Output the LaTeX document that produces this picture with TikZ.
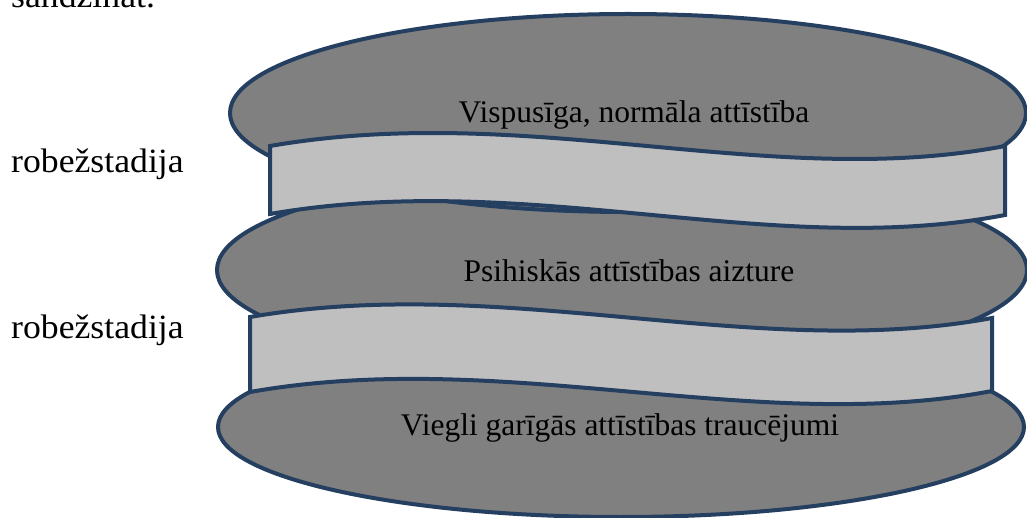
\documentclass[tikz,border=0pt]{standalone}
\usepackage{fontspec}
\setmainfont{Liberation Serif}
\usetikzlibrary{shapes.geometric}
\definecolor{edgeblue}{HTML}{243F60}
\definecolor{darkfill}{HTML}{808080}
\definecolor{lightfill}{HTML}{BFBFBF}
\newcommand{\stretchtxt}[1]{\scalebox{1.05}[1]{#1}}
\begin{document}
\begin{tikzpicture}[x=1pt,y=-1pt,
  layer/.style={ellipse, draw=edgeblue, fill=darkfill, line width=4pt, inner sep=0pt, outer sep=0pt},
  band/.style={draw=edgeblue, fill=lightfill, line width=4pt, line join=miter},
  sidelbl/.style={font=\fontsize{34}{40}\selectfont, inner sep=0pt, anchor=base west},
  inlbl/.style={font=\fontsize{31.5}{36}\selectfont, inner sep=0pt, anchor=base}]
\useasboundingbox (0,0) rectangle (1027,518);
\clip (0,0) rectangle (1027,518);
% layers (ellipses)
\node[layer, minimum width=806pt, minimum height=180pt] (low) at (621,427) {};
\node[layer, minimum width=810pt, minimum height=202pt] (mid) at (622,270) {};
\node[layer, minimum width=796pt, minimum height=198pt] (top) at (628,113) {};
% border stages (wavy bands)
\draw[band] (270,146) .. controls (530,101) and (770,191) .. (1005,146)
  -- (1005,215) .. controls (770,260) and (530,169) .. (270,214) -- cycle;
\draw[band] (250,317) .. controls (505,273) and (755,362) .. (992,318)
  -- (992,391) .. controls (755,436) and (505,347) .. (250,392) -- cycle;
% texts
\node[sidelbl] (s0) at (11,8) {\stretchtxt{sandzināt.}};
\node[sidelbl] (r1) at (11,173) {\stretchtxt{robežstadija}};
\node[sidelbl] (r2) at (11,338) {\stretchtxt{robežstadija}};
\node[inlbl] (t1) at (634,123) {Vispusīga, normāla attīstība};
\node[inlbl] (t2) at (629,282) {Psihiskās attīstības aizture};
\node[inlbl] (t3) at (620,435) {Viegli garīgās attīstības traucējumi};
\end{tikzpicture}
\end{document}
